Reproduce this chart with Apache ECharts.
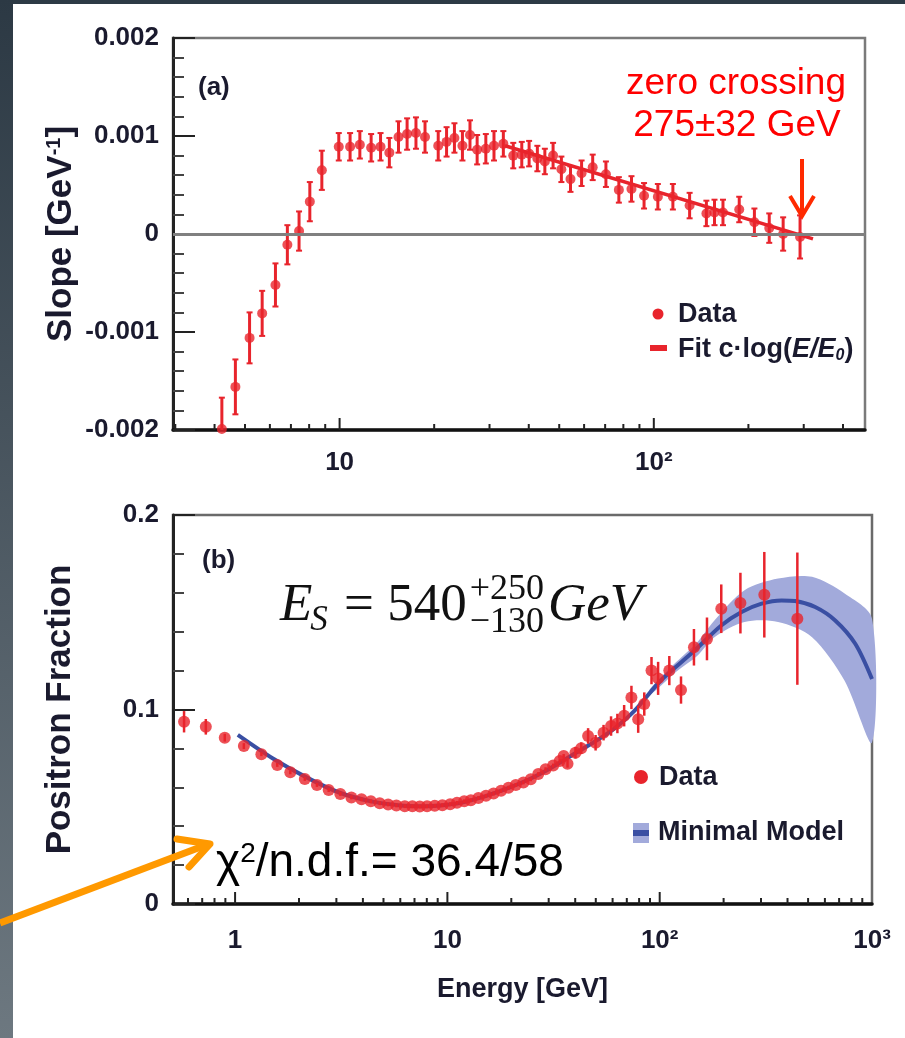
<!DOCTYPE html>
<html>
<head>
<meta charset="utf-8">
<script src="https://cdn.jsdelivr.net/npm/echarts@6/dist/echarts.min.js"></script>
<style>
html, body { margin: 0; padding: 0; background: #fff; }
#chart { width: 905px; height: 1038px; }
</style>
</head>
<body>
<div id="chart"></div>
<script>
// ---- panel (a): slope of the positron fraction ----
var slopeEnergy = [4.22, 4.66, 5.17, 5.67, 6.25, 6.82, 7.43, 8.04, 8.78, 9.94,
  10.8, 11.6, 12.6, 13.5, 14.4, 15.4, 16.4, 17.5, 18.7,
  20.6, 21.9, 23.2, 24.6, 26.0, 27.4, 29.2, 31.0,
  33.2, 35.7, 38.0, 40.1, 42.6, 45.0, 47.8,
  50.8, 54.3, 58.9, 63.9, 70.4,
  77.4, 84.9, 93.1, 103, 115, 130,
  147, 156, 166, 187, 209, 233, 258, 292];
var slopeValue = [-0.00199, -0.00156, -0.00106, -0.00081, -0.00052, -0.00011, 0.00003, 0.00033, 0.00065, 0.00089,
  0.00089, 0.00091, 0.00088, 0.00089, 0.00083, 0.00099, 0.00102, 0.00103, 0.00099,
  0.00090, 0.00094, 0.00098, 0.00090, 0.00101, 0.00086, 0.00087, 0.00090,
  0.00092, 0.00080, 0.00081, 0.00082, 0.00077, 0.00074, 0.00080,
  0.00066, 0.00056, 0.00062, 0.00068, 0.00061,
  0.00045, 0.00046, 0.00039, 0.00038, 0.00038, 0.00029,
  0.00021, 0.00022, 0.00022, 0.00025, 0.00012, 0.00006, 0.00000, -0.00003];
var slopeError = [0.00032, 0.00028, 0.00026, 0.00023, 0.00022, 0.00020, 0.00020, 0.00020, 0.00020, 0.00014,
  0.00014, 0.00014, 0.00014, 0.00014, 0.00015, 0.00016, 0.00016, 0.00016, 0.00016,
  0.00015, 0.00015, 0.00015, 0.00015, 0.00015, 0.00015, 0.00015, 0.00015,
  0.00013, 0.00013, 0.00013, 0.00013, 0.00013, 0.00013, 0.00013,
  0.00013, 0.00013, 0.00013, 0.00013, 0.00013,
  0.00013, 0.00013, 0.00013, 0.00013, 0.00013, 0.00013,
  0.00013, 0.00013, 0.00013, 0.00013, 0.00014, 0.00015, 0.00017, 0.00022];
var fitEnergy = [33.6, 321];
var fitValue = [0.00090, -0.00005];

// ---- panel (b): positron fraction ----
var fracEnergy = [0.575, 0.728, 0.894, 1.10, 1.33, 1.58, 1.82, 2.13, 2.43, 2.76,
  3.13, 3.53, 3.94, 4.36, 4.80, 5.26, 5.75, 6.30, 6.84, 7.41,
  8.02, 8.72, 9.47, 10.3, 11.1, 12.0, 12.9, 14.0, 15.2, 16.5,
  17.9, 19.4, 21.0, 22.8, 24.7, 26.8, 29.0, 31.5, 33.8, 35.3,
  36.8, 40.1, 42.7, 46.0, 49.9, 54.4, 59.0, 63.2, 68.0, 73.6,
  79.2, 84.6, 91.5, 98.3, 111, 126, 145, 167, 195, 240,
  311, 445];
var fracValue = [0.0937, 0.0911, 0.0855, 0.0812, 0.0770, 0.0715, 0.0677, 0.0643, 0.0612, 0.0586,
  0.0566, 0.0548, 0.0538, 0.0528, 0.0518, 0.0512, 0.0507, 0.0503, 0.0502, 0.0501,
  0.0502, 0.0505, 0.0508, 0.0513, 0.0520, 0.0528, 0.0534, 0.0545, 0.0556, 0.0568,
  0.0582, 0.0598, 0.0612, 0.0625, 0.0641, 0.0668, 0.0693, 0.0712, 0.0735, 0.0761,
  0.0721, 0.0778, 0.0801, 0.0864, 0.0829, 0.0881, 0.0915, 0.0928, 0.0968, 0.1062,
  0.0950, 0.1028, 0.1200, 0.1160, 0.1200, 0.1100, 0.1320, 0.1363, 0.1518, 0.1547,
  0.1590, 0.1467];
var fracError = [0.0055, 0.0040, 0.0020, 0.0015, 0.0010, 0.0010, 0.0010, 0.0010, 0.0010, 0.0010,
  0.0010, 0.0010, 0.0010, 0.0010, 0.0010, 0.0010, 0.0010, 0.0010, 0.0010, 0.0010,
  0.0010, 0.0010, 0.0010, 0.0010, 0.0010, 0.0010, 0.0010, 0.0010, 0.0010, 0.0010,
  0.0010, 0.0010, 0.0010, 0.0010, 0.0010, 0.0010, 0.0010, 0.0010, 0.0010, 0.0010,
  0.0020, 0.0030, 0.0030, 0.0040, 0.0040, 0.0040, 0.0050, 0.0050, 0.0055, 0.0060,
  0.0070, 0.0060, 0.0070, 0.0085, 0.0075, 0.0070, 0.0094, 0.0110, 0.0125, 0.0156,
  0.0220, 0.0340];

var modelEnergy = [1.03, 1.5, 2.17, 3.11, 4.5, 6, 7.2, 8.5, 10, 12, 15, 20, 25, 30, 40, 50, 60,
  76, 101, 146, 195, 243, 302, 375, 434, 540, 671, 834, 1000];
var modelValue = [0.0869, 0.0749, 0.0651, 0.0572, 0.0525, 0.0507, 0.0503, 0.0504, 0.0510, 0.0524,
  0.0553, 0.0602, 0.0648, 0.0693, 0.0775, 0.0838, 0.0895,
  0.0993, 0.1148, 0.1303, 0.1432, 0.1501, 0.1544, 0.1561, 0.1558, 0.1527, 0.1458, 0.1338, 0.1157];
var bandEnergy = [90, 120, 150, 181, 251, 361, 522, 743, 1000];
var bandHigh = [0.1105, 0.1245, 0.1345, 0.1458, 0.1613, 0.1673, 0.1682, 0.1596, 0.1467];
var bandLow = [0.1075, 0.1195, 0.1275, 0.1372, 0.1450, 0.1450, 0.1372, 0.1148, 0.0830];

// axis labels
var decadeValues = [1, 10, 100, 1000];
var decadeLabels = ['1', '10', '10²', '10³'];

var RED = '#e8242c';
var BLUE = '#3a4fa3';
var BAND = '#a2aadb';
var INK = '#1a1a2e';
var SANS = '"Liberation Sans", Arial, Helvetica, sans-serif';
var SERIF = '"Liberation Serif", "Times New Roman", serif';

function zip3(a, b, c) {
  return a.map(function (v, i) { return [v, b[i], c ? c[i] : 0]; });
}

function decadeLabel(v) {
  var l = Math.log(v) / Math.LN10;
  var k = Math.round(l);
  if (Math.abs(l - k) > 1e-6) return '';
  var i = decadeValues.indexOf(Math.pow(10, k));
  return i < 0 ? '' : decadeLabels[i];
}

// log minor tick positions 2..9 x 10^k inside a range
function logTicks(lo, hi, yBase) {
  var out = [];
  for (var k = -1; k <= 3; k++) {
    for (var m = 1; m <= 9; m++) {
      var e = m * Math.pow(10, k);
      if (e > lo * 1.001 && e < hi * 0.999) out.push([e, yBase, m === 1 ? 1 : 0]);
    }
  }
  return out;
}

function tickItem(params, api) {
  var p = api.coord([api.value(0), api.value(1)]);
  var len = api.value(2) ? 12 : 6;
  return {
    type: 'line',
    shape: { x1: p[0], y1: p[1], x2: p[0], y2: p[1] - len },
    style: { stroke: '#222', lineWidth: 2 }
  };
}

function errorBar(cap, width) {
  return function (params, api) {
    var e = api.value(0), v = api.value(1), err = api.value(2);
    var top = api.coord([e, v + err]);
    var bot = api.coord([e, v - err]);
    var cs = params.coordSys;
    var y1 = Math.max(top[1], cs.y);
    var y2 = Math.min(bot[1], cs.y + cs.height);
    var x = top[0];
    var kids = [{ type: 'line', shape: { x1: x, y1: y1, x2: x, y2: y2 },
      style: { stroke: RED, lineWidth: width } }];
    if (cap > 0) {
      if (y1 > cs.y) kids.push({ type: 'line', shape: { x1: x - cap, y1: y1, x2: x + cap, y2: y1 }, style: { stroke: RED, lineWidth: 2 } });
      if (y2 < cs.y + cs.height) kids.push({ type: 'line', shape: { x1: x - cap, y1: y2, x2: x + cap, y2: y2 }, style: { stroke: RED, lineWidth: 2 } });
    }
    return { type: 'group', children: kids };
  };
}

var labelStyle = { fontFamily: SANS, fontWeight: 'bold', fontSize: 26, color: INK };

function yAxisBase(extra) {
  var base = {
    type: 'value',
    axisLine: { show: true, lineStyle: { color: '#222', width: 3 } },
    axisTick: { show: true, inside: true, length: 22, lineStyle: { color: '#222', width: 2 } },
    minorTick: { show: true, splitNumber: 5, length: 11, lineStyle: { color: '#444', width: 2 } },
    splitLine: { show: false },
    minorSplitLine: { show: false },
    nameLocation: 'middle',
    nameRotate: 90,
    nameMoveOverlap: false
  };
  for (var k in extra) base[k] = extra[k];
  return base;
}

function xAxisBase(extra) {
  var base = {
    type: 'log',
    logBase: 10,
    axisLine: { show: true, onZero: false, lineStyle: { color: '#111', width: 3.5 } },
    axisTick: { show: false },
    minorTick: { show: false },
    splitLine: { show: false },
    nameLocation: 'middle',
    nameMoveOverlap: false
  };
  for (var k in extra) base[k] = extra[k];
  return base;
}

var chart = echarts.init(document.getElementById('chart'), null, { renderer: 'canvas' });

// measure text for the E_S formula layout
var ctx = document.createElement('canvas').getContext('2d');
function textW(str, font) { ctx.font = font; return ctx.measureText(str).width; }
var fMainI = 'italic 53px ' + SERIF;
var fMain = '53px ' + SERIF;
var fSubI = 'italic 35px ' + SERIF;
var fScript = '36px ' + SERIF;
var esX = 280;
var xS = esX + textW('E', fMainI) - 2;
var xEq = xS + textW('S', fSubI) + 3;
var x540 = xEq + textW(' = ', fMain);
var xScr = x540 + textW('540', fMain) + 3;
var xGeV = xScr + Math.max(textW('+250', fScript), textW('−130', fScript)) + 4;

var option = {
  backgroundColor: '#ffffff',
  animation: false,
  grid: [
    { left: 173, right: 40, top: 38, height: 392, show: true, borderColor: '#7a7a7a', borderWidth: 2.5,
      containLabel: false, outerBoundsMode: 'none' },
    { left: 173, right: 33, top: 515, height: 389, show: true, borderColor: '#6a6a6a', borderWidth: 2.5,
      containLabel: false, outerBoundsMode: 'none' }
  ],
  xAxis: [
    xAxisBase({ gridIndex: 0, min: 2.95, max: 470,
      axisLabel: Object.assign({ margin: 20, formatter: decadeLabel }, labelStyle) }),
    xAxisBase({ gridIndex: 1, min: 0.51, max: 1000,
      name: 'Energy [GeV]', nameGap: 72,
      nameTextStyle: { fontFamily: SANS, fontWeight: 'bold', fontSize: 27, color: INK },
      axisLabel: Object.assign({ margin: 24, formatter: decadeLabel }, labelStyle) })
  ],
  yAxis: [
    yAxisBase({ gridIndex: 0, min: -0.002, max: 0.002, interval: 0.001,
      axisLabel: Object.assign({ margin: 14 }, labelStyle),
      name: '{t|Slope [GeV}{s|-1}{t|]}', nameGap: 94,
      nameTextStyle: { rich: {
        t: { fontFamily: SANS, fontWeight: 'bold', fontSize: 35, color: INK },
        s: { fontFamily: SANS, fontWeight: 'bold', fontSize: 20, color: INK, verticalAlign: 'top' }
      } } }),
    yAxisBase({ gridIndex: 1, min: 0, max: 0.2, interval: 0.1,
      axisLabel: Object.assign({ margin: 14 }, labelStyle),
      name: 'Positron Fraction', nameGap: 95,
      nameTextStyle: { fontFamily: SANS, fontWeight: 'bold', fontSize: 35, color: INK } })
  ],
  series: [
    // panel (a)
    { type: 'custom', xAxisIndex: 0, yAxisIndex: 0, renderItem: tickItem, silent: true,
      data: logTicks(2.95, 470, -0.002), encode: { x: 0, y: 1 }, z: 5 },
    { type: 'custom', xAxisIndex: 0, yAxisIndex: 0, renderItem: errorBar(3, 3), silent: true,
      data: zip3(slopeEnergy, slopeValue, slopeError), encode: { x: 0, y: 1 }, z: 3,
      markLine: { silent: true, symbol: 'none', label: { show: false },
        lineStyle: { color: '#808080', width: 3, type: 'solid' }, data: [{ yAxis: 0 }] } },
    { type: 'scatter', xAxisIndex: 0, yAxisIndex: 0, symbol: 'circle', symbolSize: 10,
      itemStyle: { color: RED }, data: slopeEnergy.map(function (e, i) { return [e, slopeValue[i]]; }), z: 4 },
    { type: 'line', xAxisIndex: 0, yAxisIndex: 0, showSymbol: false, symbol: 'none',
      lineStyle: { color: RED, width: 3.5 }, data: fitEnergy.map(function (e, i) { return [e, fitValue[i]]; }), z: 4 },

    // panel (b)
    { type: 'custom', xAxisIndex: 1, yAxisIndex: 1, silent: true, z: 1,
      data: [[bandEnergy[0], bandHigh[0]]], encode: { x: 0, y: 1 },
      renderItem: function (params, api) {
        var pts = [];
        for (var i = 0; i < bandEnergy.length; i++) pts.push(api.coord([bandEnergy[i], bandHigh[i]]));
        for (var j = bandEnergy.length - 1; j >= 0; j--) pts.push(api.coord([bandEnergy[j], bandLow[j]]));
        return { type: 'polygon', shape: { points: pts, smooth: 0.3 }, style: { fill: BAND } };
      } },
    { type: 'line', xAxisIndex: 1, yAxisIndex: 1, showSymbol: false, symbol: 'none', smooth: 0.3, z: 2,
      lineStyle: { color: BLUE, width: 4 }, data: modelEnergy.map(function (e, i) { return [e, modelValue[i]]; }) },
    { type: 'custom', xAxisIndex: 1, yAxisIndex: 1, renderItem: errorBar(0, 2.5), silent: true,
      data: zip3(fracEnergy, fracValue, fracError), encode: { x: 0, y: 1 }, z: 3 },
    { type: 'scatter', xAxisIndex: 1, yAxisIndex: 1, symbol: 'circle', symbolSize: 12, z: 4,
      itemStyle: { color: RED }, data: fracEnergy.map(function (e, i) { return [e, fracValue[i]]; }) },
    { type: 'custom', xAxisIndex: 1, yAxisIndex: 1, renderItem: tickItem, silent: true,
      data: logTicks(0.51, 1000, 0), encode: { x: 0, y: 1 }, z: 5 }
  ],
  graphic: [
    // slide frame
    { type: 'rect', shape: { x: 0, y: 0, width: 905, height: 4 }, style: { fill: '#2d3a45' }, z: 50 },
    { type: 'rect', shape: { x: 0, y: 0, width: 13, height: 1038 }, z: 50,
      style: { fill: new echarts.graphic.LinearGradient(0, 0, 0, 1, [
        { offset: 0, color: '#2c3944' }, { offset: 1, color: '#6d7880' }]) } },

    // panel (a) annotations
    { type: 'text', x: 198, y: 88, z: 60, style: { text: '(a)', fontFamily: SANS, fontWeight: 'bold', fontSize: 26,
      fill: INK, align: 'left', verticalAlign: 'middle' } },
    { type: 'text', x: 736, y: 84, z: 60, style: { text: 'zero crossing', fontFamily: SANS, fontSize: 37,
      fill: '#ff0000', align: 'center', verticalAlign: 'middle' } },
    { type: 'text', x: 737, y: 126, z: 60, style: { text: '275±32 GeV', fontFamily: SANS, fontSize: 37,
      fill: '#ff0000', align: 'center', verticalAlign: 'middle' } },
    { type: 'line', z: 60, shape: { x1: 802, y1: 159, x2: 802, y2: 216 }, style: { stroke: '#ff2a00', lineWidth: 4 } },
    { type: 'polyline', z: 60, shape: { points: [[790, 196], [802, 216], [814, 196]] },
      style: { stroke: '#ff2a00', lineWidth: 4, fill: null } },
    { type: 'circle', z: 60, shape: { cx: 658, cy: 314, r: 5.5 }, style: { fill: RED } },
    { type: 'text', x: 678, y: 315, z: 60, style: { text: 'Data', fontFamily: SANS, fontWeight: 'bold', fontSize: 27,
      fill: INK, align: 'left', verticalAlign: 'middle' } },
    { type: 'rect', z: 60, shape: { x: 650, y: 345, width: 17, height: 6 }, style: { fill: RED } },
    { type: 'text', x: 678, y: 350, z: 60, style: {
      text: '{a|Fit c·log(}{i|E/E}{o|0}{a|)}', align: 'left', verticalAlign: 'middle',
      rich: {
        a: { fontFamily: SANS, fontWeight: 'bold', fontSize: 27, fill: INK },
        i: { fontFamily: SANS, fontWeight: 'bold', fontStyle: 'italic', fontSize: 27, fill: INK },
        o: { fontFamily: SANS, fontWeight: 'bold', fontStyle: 'italic', fontSize: 16, fill: INK, verticalAlign: 'bottom' }
      } } },

    // panel (b) annotations
    { type: 'text', x: 202, y: 561, z: 60, style: { text: '(b)', fontFamily: SANS, fontWeight: 'bold', fontSize: 26,
      fill: INK, align: 'left', verticalAlign: 'middle' } },
    { type: 'text', x: esX, y: 606, z: 60, style: { text: 'E', font: fMainI, fill: '#111', align: 'left', verticalAlign: 'middle' } },
    { type: 'text', x: xS, y: 621, z: 60, style: { text: 'S', font: fSubI, fill: '#111', align: 'left', verticalAlign: 'middle' } },
    { type: 'text', x: xEq, y: 606, z: 60, style: { text: ' = 540', font: fMain, fill: '#111', align: 'left', verticalAlign: 'middle' } },
    { type: 'text', x: xScr, y: 590, z: 60, style: { text: '+250', font: fScript, fill: '#111', align: 'left', verticalAlign: 'middle' } },
    { type: 'text', x: xScr, y: 623, z: 60, style: { text: '−130', font: fScript, fill: '#111', align: 'left', verticalAlign: 'middle' } },
    { type: 'text', x: xGeV, y: 606, z: 60, style: { text: 'GeV', font: fMainI, fill: '#111', align: 'left', verticalAlign: 'middle' } },

    { type: 'circle', z: 60, shape: { cx: 641, cy: 777, r: 7 }, style: { fill: RED } },
    { type: 'text', x: 659, y: 778, z: 60, style: { text: 'Data', fontFamily: SANS, fontWeight: 'bold', fontSize: 27,
      fill: INK, align: 'left', verticalAlign: 'middle' } },
    { type: 'rect', z: 60, shape: { x: 633, y: 823, width: 16, height: 20 }, style: { fill: BAND } },
    { type: 'rect', z: 60, shape: { x: 633, y: 830, width: 16, height: 6 }, style: { fill: BLUE } },
    { type: 'text', x: 658, y: 833, z: 60, style: { text: 'Minimal Model', fontFamily: SANS, fontWeight: 'bold', fontSize: 27,
      fill: INK, align: 'left', verticalAlign: 'middle' } },

    { type: 'text', x: 216, y: 863, z: 60, style: {
      text: '{m|χ}{s|2}{m|/n.d.f.= 36.4/58}', align: 'left', verticalAlign: 'middle',
      rich: {
        m: { fontFamily: SANS, fontSize: 46, fill: '#000' },
        s: { fontFamily: SANS, fontSize: 28, fill: '#000', verticalAlign: 'top' }
      } } },
    // orange pointer
    { type: 'polyline', z: 70, shape: { points: [[0, 923], [206, 845]] },
      style: { stroke: '#ff9900', lineWidth: 7, fill: null } },
    { type: 'polyline', z: 70, shape: { points: [[177, 839], [210, 844], [189, 867]] },
      style: { stroke: '#ff9900', lineWidth: 7, fill: null, lineCap: 'round', lineJoin: 'round' } }
  ]
};

chart.setOption(option);
</script>
</body>
</html>
